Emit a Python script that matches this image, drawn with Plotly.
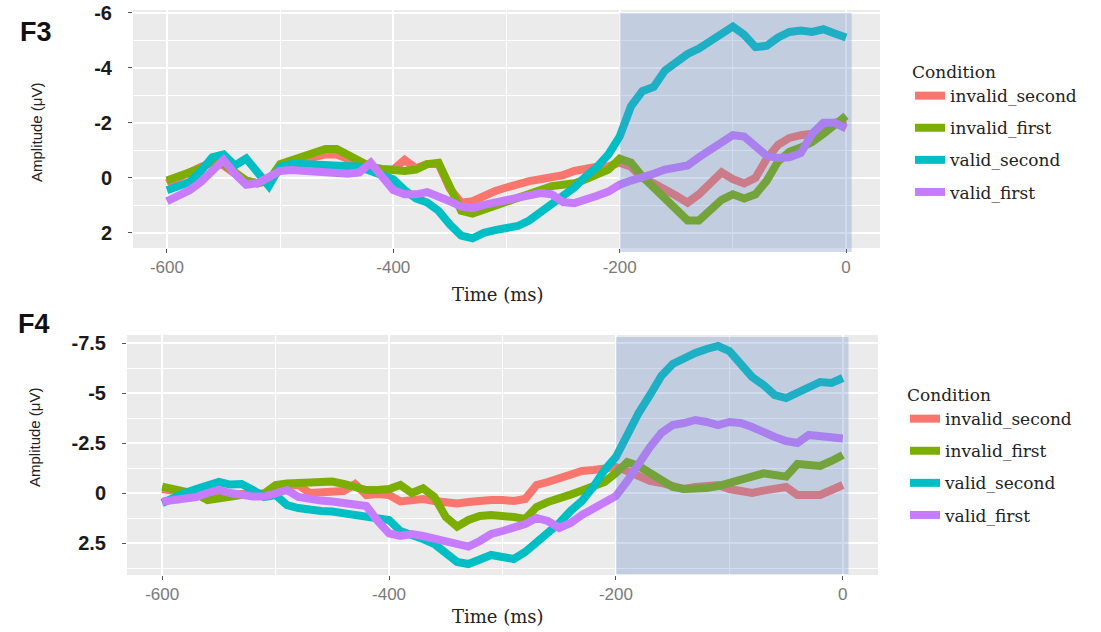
import plotly.graph_objects as go

W, H = 1101, 632

# ---------------- data ----------------
time_ms = list(range(-600, 1, 10))
conditions = ["invalid_second", "invalid_first", "valid_second", "valid_first"]
colors = ["#F8766D", "#7CAE00", "#00BFC4", "#C77CFF"]

# F3 channel (µV)
f3_invalid_second = [0.2, 0.0, -0.25, -0.4, -0.55, -0.45, -0.15, 0.1, 0.2, 0.1,
                     -0.4, -0.55, -0.65, -0.75, -0.85, -0.85, -0.7, -0.5, -0.35, -0.3,
                     -0.3, -0.65, -0.35, -0.5, -0.5, 0.4, 0.9, 0.85, 0.65, 0.48,
                     0.35, 0.22, 0.12, 0.05, -0.02, -0.1, -0.25, -0.35, -0.4, -0.42,
                     -0.55, -0.4, 0.0, 0.2, 0.4, 0.65, 0.9, 0.6, 0.2, -0.2,
                     0.05, 0.2, 0.0, -0.7, -1.2, -1.45, -1.55, -1.6, -1.8, -2.0, -2.1]
f3_invalid_first = [0.1, -0.05, -0.2, -0.35, -0.6, -0.5, -0.2, 0.1, 0.2, 0.1,
                    -0.5, -0.65, -0.75, -0.9, -1.05, -1.05, -0.85, -0.6, -0.4, -0.32,
                    -0.28, -0.25, -0.3, -0.5, -0.55, 0.3, 1.2, 1.3, 1.15, 1.0,
                    0.85, 0.75, 0.6, 0.4, 0.3, 0.25, 0.2, 0.05, -0.1, -0.3,
                    -0.7, -0.55, -0.05, 0.35, 0.75, 1.15, 1.55, 1.55, 1.2, 0.8,
                    0.6, 0.75, 0.6, 0.1, -0.6, -0.95, -1.1, -1.3, -1.6, -1.9, -2.25]
f3_valid_second = [0.45, 0.3, 0.15, -0.25, -0.75, -0.85, -0.45, -0.7, -0.2, 0.3,
                   -0.4, -0.5, -0.5, -0.48, -0.46, -0.45, -0.44, -0.4, -0.25, -0.1,
                   0.05, 0.45, 0.75, 0.9, 1.2, 1.7, 2.1, 2.2, 2.0, 1.9,
                   1.85, 1.75, 1.55, 1.25, 0.95, 0.7, 0.35, -0.05, -0.4, -0.85,
                   -1.5, -2.6, -3.15, -3.3, -3.9, -4.2, -4.5, -4.7, -4.95, -5.2,
                   -5.5, -5.2, -4.75, -4.8, -5.1, -5.3, -5.35, -5.3, -5.4, -5.25, -5.1]
f3_valid_first = [0.85, 0.65, 0.45, 0.15, -0.3, -0.65, -0.15, 0.25, 0.2, 0.0,
                  -0.25, -0.28, -0.25, -0.2, -0.18, -0.16, -0.15, -0.2, -0.55, -0.05,
                  0.45, 0.6, 0.6, 0.52, 0.65, 0.85, 1.05, 1.1, 0.98, 0.9,
                  0.82, 0.72, 0.64, 0.55, 0.6, 0.88, 0.92, 0.75, 0.65, 0.5,
                  0.25, 0.1, 0.0, -0.15, -0.3, -0.38, -0.45, -0.75, -1.0, -1.25,
                  -1.55, -1.5, -1.1, -0.8, -0.72, -0.75, -0.9, -1.6, -2.0, -2.0, -1.8]

# F4 channel (µV)
f4_invalid_second = [-0.2, -0.15, -0.05, 0.05, 0.2, 0.2, 0.1, 0.05, 0.05, 0.05,
                     -0.3, -0.35, -0.4, 0.0, 0.0, 0.0, -0.1, -0.45, 0.1, 0.05,
                     0.1, 0.42, 0.35, 0.3, 0.4, 0.45, 0.52, 0.45, 0.35, 0.35,
                     0.35, 0.4, 0.3, -0.4, -0.55, -0.75, -0.95, -1.1, -1.15, -1.2,
                     -1.3, -1.1, -0.85, -0.6, -0.5, -0.35, -0.2, -0.3, -0.35, -0.4,
                     -0.2, -0.08, 0.0, -0.12, -0.2, -0.3, 0.1, 0.05, 0.1, -0.15, -0.4]
f4_invalid_first = [-0.32, -0.2, -0.05, 0.05, 0.35, 0.27, 0.15, 0.05, 0.02, 0.02,
                    -0.4, -0.48, -0.52, -0.57, -0.58, -0.57, -0.45, -0.3, -0.15, -0.15,
                    -0.2, -0.4, 0.0, -0.23, 0.2, 1.2, 1.68, 1.35, 1.15, 1.1,
                    1.1, 1.2, 1.3, 0.7, 0.45, 0.3, 0.08, -0.12, -0.35, -0.55,
                    -1.0, -1.55, -1.35, -1.0, -0.55, -0.3, -0.2, -0.18, -0.25, -0.35,
                    -0.5, -0.65, -0.88, -0.98, -0.9, -0.82, -1.45, -1.4, -1.35, -1.6, -1.9]
f4_valid_second = [0.5, 0.2, 0.0, -0.2, -0.4, -0.55, -0.42, -0.45, -0.15, 0.2,
                   0.1, 0.6, 0.75, 0.85, 0.9, 0.93, 1.0, 1.08, 1.12, 1.18,
                   1.35, 1.9, 2.05, 2.3, 2.55, 3.0, 3.45, 3.55, 3.3, 3.1,
                   3.2, 3.3, 2.95, 2.5, 2.0, 1.5, 0.9, 0.4, -0.3, -1.15,
                   -1.8, -3.0, -4.0, -4.9, -5.85, -6.45, -6.75, -7.0, -7.2, -7.35,
                   -7.1, -6.45, -5.8, -5.4, -4.9, -4.75, -5.05, -5.35, -5.55, -5.5, -5.75]
f4_valid_first = [0.43, 0.38, 0.33, 0.2, 0.0, -0.15, 0.0, 0.1, 0.18, 0.18,
                  0.05, -0.15, 0.2, 0.33, 0.38, 0.43, 0.5, 0.6, 0.65, 1.4,
                  2.02, 2.15, 2.05, 2.15, 2.3, 2.45, 2.6, 2.68, 2.4, 2.05,
                  1.9, 1.75, 1.55, 1.25, 1.4, 1.75, 1.5, 1.1, 0.8, 0.5,
                  0.15, -0.6, -1.5, -2.3, -3.0, -3.4, -3.5, -3.65, -3.55, -3.4,
                  -3.55, -3.5, -3.3, -3.0, -2.8, -2.6, -2.5, -2.9, -2.85, -2.8, -2.73]

f3_series = [f3_invalid_second, f3_invalid_first, f3_valid_second, f3_valid_first]
f4_series = [f4_invalid_second, f4_invalid_first, f4_valid_second, f4_valid_first]

x_ticks = [-600, -400, -200, 0]
x_ticktext = ["-600", "-400", "-200", "0"]
f3_yticks = [-6, -4, -2, 0, 2]
f3_yticktext = ["-6", "-4", "-2", "0", "2"]
f4_yticks = [-7.5, -5, -2.5, 0, 2.5]
f4_yticktext = ["-7.5", "-5", "-2.5", "0", "2.5"]
window = [-200, 5]

# ---------------- figure ----------------
def px_x(p):
    return p / W

def px_y(p):
    return 1 - p / H

fig = go.Figure()
for i, name in enumerate(conditions):
    fig.add_trace(go.Scatter(x=time_ms, y=f3_series[i], mode="lines", name=name,
                             line=dict(color=colors[i], width=8),
                             xaxis="x", yaxis="y", legend="legend",
                             legendgroup="a" + name))
for i, name in enumerate(conditions):
    fig.add_trace(go.Scatter(x=time_ms, y=f4_series[i], mode="lines", name=name,
                             line=dict(color=colors[i], width=8),
                             xaxis="x2", yaxis="y2", legend="legend2",
                             legendgroup="b" + name))

xtick_font = dict(family="Liberation Sans, Arial, sans-serif", size=17, color="#7a7a7a")
ytick_font = dict(family="Liberation Sans, Arial, sans-serif", size=20, color="#1a1a1a", weight="bold")
serif = "DejaVu Serif, Liberation Serif, serif"

common_x = dict(showgrid=True, gridcolor="white", gridwidth=1.6, zeroline=False,
                ticks="outside", ticklen=4, tickcolor="#555", tickwidth=1.2,
                tickvals=x_ticks, ticktext=x_ticktext, tickfont=xtick_font, showline=False,
                automargin=False,
                minor=dict(dtick=100, tick0=0, showgrid=True, gridcolor="white", gridwidth=1.0))
common_y = dict(showgrid=True, gridcolor="white", gridwidth=1.6, zeroline=False,
                ticks="outside", ticklen=4, tickcolor="#555", tickwidth=1.2,
                tickfont=ytick_font, showline=False, ticklabelstandoff=12,
                automargin=False)

legend_common = dict(xanchor="left", yanchor="top",
                     font=dict(family=serif, size=17, color="#222"),
                     tracegroupgap=7, itemwidth=30, bgcolor="rgba(0,0,0,0)")

fig.update_layout(
    width=W, height=H,
    autosize=False,
    margin=dict(l=0, r=0, t=0, b=0, pad=0, autoexpand=False),
    paper_bgcolor="white",
    plot_bgcolor="#EBEBEB",
    xaxis=dict(domain=[px_x(133), px_x(880)], range=[-630, 30], anchor="y", **common_x),
    yaxis=dict(domain=[px_y(248), px_y(10)], range=[2.55, -6.1], anchor="x",
               tickvals=f3_yticks, ticktext=f3_yticktext,
               minor=dict(dtick=1, tick0=0, showgrid=True, gridcolor="white", gridwidth=1.0),
               **common_y),
    xaxis2=dict(domain=[px_x(127), px_x(878)], range=[-631, 31], anchor="y2", **common_x),
    yaxis2=dict(domain=[px_y(575), px_y(335)], range=[4.1, -7.9], anchor="x2",
                tickvals=f4_yticks, ticktext=f4_yticktext,
                minor=dict(dtick=1.25, tick0=0, showgrid=True, gridcolor="white", gridwidth=1.0),
                **common_y),
    legend=dict(x=px_x(910), y=px_y(56),
                title=dict(text="Condition", font=dict(family=serif, size=17, color="#222")),
                **legend_common),
    legend2=dict(x=px_x(905), y=px_y(379),
                 title=dict(text="Condition", font=dict(family=serif, size=17, color="#222")),
                 **legend_common),
    showlegend=True,
)

# shaded analysis window (drawn above traces, semi-transparent)
fig.add_shape(type="rect", xref="x", yref="paper", x0=window[0], x1=window[1],
              y0=px_y(252), y1=px_y(13), fillcolor="rgba(100,140,200,0.30)",
              line=dict(width=0), layer="above")
fig.add_shape(type="rect", xref="x2", yref="paper", x0=window[0], x1=window[1],
              y0=px_y(574), y1=px_y(337), fillcolor="rgba(100,140,200,0.30)",
              line=dict(width=0), layer="above")

ann_axis = dict(family="Liberation Sans, Arial, sans-serif", size=15, color="#222")
time_font = dict(family=serif, size=18, color="#222")
panel_font = dict(family="Liberation Sans, Arial, sans-serif", size=27, color="#111", weight="bold")

def note(text, x, y, font, angle=0):
    fig.add_annotation(text=text, x=px_x(x), y=px_y(y), xref="paper", yref="paper",
                       xanchor="center", yanchor="middle", showarrow=False,
                       textangle=angle, font=font)

note("F3", 36, 32, panel_font)
note("F4", 34, 324, panel_font)
note("Amplitude (μV)", 36, 132, ann_axis, -90)
note("Amplitude (μV)", 34, 437, ann_axis, -90)
note("Time (ms)", 498, 294, time_font)
note("Time (ms)", 498, 616, time_font)

fig.write_html("out.html",
               config={"displayModeBar": False, "responsive": False},
               post_script="document.body.style.margin='0px';document.body.style.padding='0px';")
